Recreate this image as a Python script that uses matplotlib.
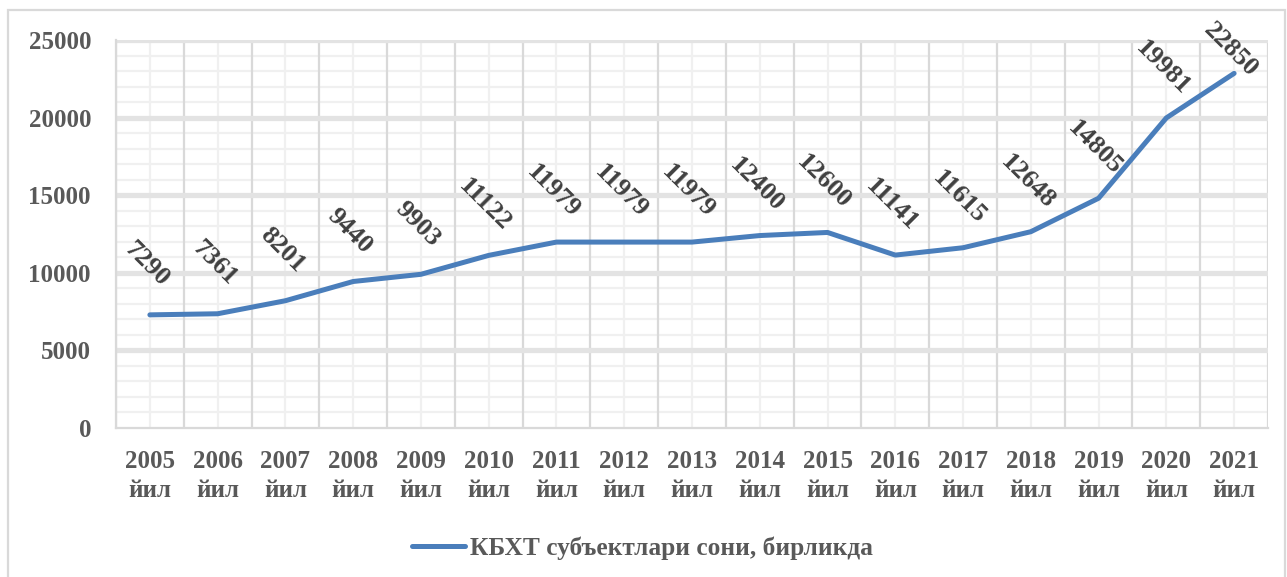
import numpy as np
import matplotlib
matplotlib.use("Agg")
import matplotlib.pyplot as plt
from matplotlib.patches import Rectangle

years = [2005, 2006, 2007, 2008, 2009, 2010, 2011, 2012, 2013,
         2014, 2015, 2016, 2017, 2018, 2019, 2020, 2021]
counts = [7290, 7361, 8201, 9440, 9903, 11122, 11979, 11979, 11979,
          12400, 12600, 11141, 11615, 12648, 14805, 19981, 22850]
series_name = "КБХТ субъектлари сони, бирликда"
year_suffix = "йил"

plt.rcParams['font.family'] = ['Liberation Serif', 'DejaVu Serif']
plt.rcParams['font.weight'] = 'bold'

fig = plt.figure(figsize=(12.87, 5.77), dpi=100)
ax = fig.add_axes([116 / 1287, 1 - 428 / 577, (1268 - 116) / 1287, (428 - 40) / 577])

x = np.arange(len(years))
line_color = '#4a7ebb'

# grid: light minor lines, darker category borders, thick major rows
for yv in range(0, 25001, 1000):
    if yv % 5000:
        ax.axhline(yv, color='#f0f0f0', lw=1.6, zorder=0)
for xv in x:
    ax.axvline(xv, color='#f0f0f0', lw=1.6, zorder=0)
for xv in np.arange(len(years) + 1) - 0.5:
    ax.axvline(xv, color='#d9d9d9', lw=1.6, zorder=1)
for yv in range(5000, 25001, 5000):
    ax.axhline(yv, color='#e3e3e3', lw=3.8, zorder=1)

ax.plot(x, counts, color=line_color, lw=3.6, solid_capstyle='round',
        solid_joinstyle='round', zorder=3, label=series_name)

for xi, v in zip(x, counts):
    ly = min(v + 3250, 24350)
    ax.text(xi - 0.05, ly, str(v), rotation=-45, ha='center', va='center',
            fontsize=19, fontweight='bold', color='#404040', zorder=4)

ax.set_xlim(-0.5, len(years) - 0.5)
ax.set_ylim(0, 25000)
ax.set_yticks(range(0, 25001, 5000))
ax.set_xticks(x)
ax.set_xticklabels([f"{y}\n{year_suffix}" for y in years], linespacing=1.3)
ax.tick_params(axis='both', length=0, labelsize=18, labelcolor='#595959')
ax.tick_params(axis='x', pad=16)
ax.tick_params(axis='y', pad=18)
for lab in ax.get_xticklabels() + ax.get_yticklabels():
    lab.set_fontweight('bold')

for side in ['top', 'right']:
    ax.spines[side].set_visible(False)
for side in ['left', 'bottom']:
    ax.spines[side].set_color('#d9d9d9')
    ax.spines[side].set_linewidth(1.6)

fig.legend(loc='center', bbox_to_anchor=(0.499, 1 - 548 / 577), frameon=False,
           handlelength=2.1, handletextpad=0.2,
           prop={'size': 18.3, 'weight': 'bold'}, labelcolor='#595959')

fig.patches.append(Rectangle((8 / 1287, -0.05), (1285 - 8) / 1287, 1.05 - 10 / 577,
                             transform=fig.transFigure, fill=False,
                             edgecolor='#d9d9d9', lw=1.6))

fig.savefig("out.png", dpi=100)
